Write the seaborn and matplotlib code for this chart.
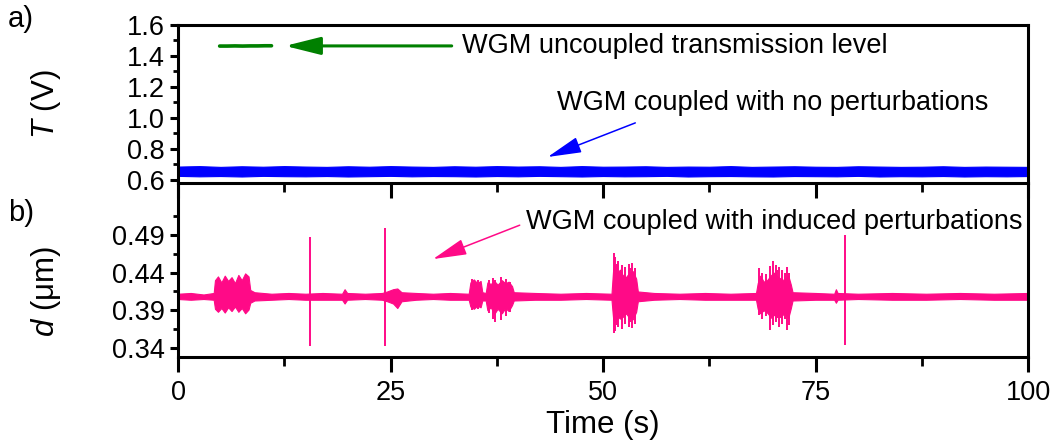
import matplotlib
matplotlib.use("Agg")
import matplotlib.pyplot as plt
import seaborn as sns
from matplotlib.ticker import FixedLocator, MultipleLocator

# --- data ---
# a) uncoupled level (short green trace)
green_t = [4.9, 5.8, 6.7, 7.6, 8.5, 9.4, 10.2, 11.0]
green_v = [1.464, 1.464, 1.465, 1.464, 1.465, 1.465, 1.466, 1.466]

# a) coupled, no perturbations: noise envelope of the blue trace
blue_t = [0.0, 2.5, 5.0, 7.5, 10.0, 12.5, 15.0, 17.5, 20.0, 22.5,
          25.0, 27.5, 30.0, 32.5, 35.0, 37.5, 40.0, 42.5, 45.0, 47.5,
          50.0, 52.5, 55.0, 57.5, 60.0, 62.5, 65.0, 67.5, 70.0, 72.5,
          75.0, 77.5, 80.0, 82.5, 85.0, 87.5, 90.0, 92.5, 95.0, 97.5, 100.0]
blue_lo = [.626, .623, .625, .622, .626, .624, .623, .625, .622, .624,
           .626, .623, .625, .624, .622, .625, .623, .626, .624, .622,
           .625, .623, .624, .626, .622, .624, .625, .623, .622, .625,
           .624, .623, .626, .622, .624, .623, .625, .622, .624, .623, .625]
blue_hi = [.686, .689, .684, .688, .685, .689, .686, .684, .688, .685,
           .689, .686, .684, .688, .685, .689, .686, .688, .684, .689,
           .685, .686, .688, .684, .686, .685, .689, .684, .686, .688,
           .685, .684, .688, .686, .684, .685, .688, .684, .686, .685, .684]

# b) coupled, induced perturbations: envelope of the dense part of the pink trace
pink_t = [0.0, 1.5, 3.0, 4.2, 4.35, 4.7, 5.1, 5.5, 5.9, 6.3, 6.7, 7.1, 7.5, 7.9, 8.3, 8.5,
          9.0, 11.0, 13.0, 15.0, 17.0, 19.3, 19.6, 19.9, 22.0, 24.0, 24.6, 25.3, 25.8, 26.3,
          28.0, 30.0, 32.0, 34.2, 34.4, 34.8, 35.2, 35.6, 35.8, 36.2, 36.4, 36.8, 37.2, 37.6,
          38.1, 38.5, 38.9, 39.3, 39.5, 42.0, 45.0, 48.0, 51.0, 51.2, 51.4, 51.7, 52.0, 52.3,
          52.7, 53.1, 53.5, 53.9, 54.1, 56.0, 59.0, 62.0, 65.0, 68.0, 68.2, 68.5, 68.9, 69.3,
          69.8, 70.1, 70.5, 70.9, 71.3, 71.8, 72.1, 72.3, 75.0, 77.2, 77.4, 77.6, 80.0, 84.0,
          88.0, 92.0, 96.0, 100.0]
pink_lo = [.405, .404, .405, .404, .392, .388, .393, .387, .394, .389, .395, .388, .393, .386, .391, .400,
           .403, .404, .405, .404, .404, .404, .399, .404, .405, .404, .402, .399, .393, .402,
           .404, .405, .404, .404, .395, .392, .396, .394, .403, .403, .390, .394, .385, .392,
           .386, .393, .389, .397, .403, .404, .404, .405, .404, .378, .374, .382, .379, .381,
           .386, .380, .378, .388, .402, .404, .405, .404, .404, .404, .392, .386, .390, .387,
           .380, .384, .382, .381, .386, .380, .393, .403, .404, .404, .400, .404, .405, .404,
           .404, .405, .404, .404]
pink_hi = [.412, .413, .411, .413, .430, .435, .427, .436, .429, .434, .426, .437, .430, .439, .435, .417,
           .414, .412, .413, .412, .413, .412, .418, .413, .412, .413, .415, .418, .419, .414,
           .413, .412, .413, .412, .427, .431, .426, .429, .414, .413, .427, .425, .429, .424,
           .430, .426, .428, .422, .414, .413, .412, .413, .412, .445, .450, .440, .444, .437,
           .434, .440, .442, .432, .415, .413, .412, .413, .412, .413, .426, .436, .428, .430,
           .437, .440, .435, .432, .430, .436, .424, .414, .413, .412, .418, .413, .412, .413,
           .412, .413, .412, .413]

# isolated sharp spikes and burst peaks in b)
spike_t = [15.5, 24.3, 78.5,
           34.6, 35.3, 36.6, 37.0, 37.3, 38.0, 38.6, 39.0,
           51.25, 51.45, 51.6, 51.8, 52.2, 52.6, 53.0, 53.2, 53.4, 53.75,
           68.4, 68.7, 69.2, 69.7, 70.0, 70.3, 70.5, 70.7, 71.1, 71.4, 71.7, 71.9]
spike_lo = [0.343, 0.343, 0.344,
            0.391, 0.392, 0.386, 0.378, 0.375, 0.377, 0.382, 0.388,
            0.360, 0.362, 0.370, 0.368, 0.365, 0.372, 0.368, 0.374, 0.366, 0.372,
            0.384, 0.378, 0.383, 0.364, 0.370, 0.374, 0.380, 0.368, 0.372, 0.378, 0.364, 0.370]
spike_hi = [0.487, 0.499, 0.490,
            0.432, 0.430, 0.430, 0.433, 0.430, 0.434, 0.432, 0.428,
            0.466, 0.461, 0.452, 0.455, 0.450, 0.447, 0.452, 0.446, 0.453, 0.446,
            0.446, 0.440, 0.438, 0.449, 0.455, 0.450, 0.444, 0.448, 0.444, 0.440, 0.447, 0.440]

x_ticks = [0, 25, 50, 75, 100]
a_ticks = [0.6, 0.8, 1.0, 1.2, 1.4, 1.6]
b_ticks = [0.34, 0.39, 0.44, 0.49]
b_minor = [0.365, 0.415, 0.465, 0.515]

GREEN = "#008000"
BLUE = "#0000ff"
PINK = "#ff0a87"
FS = 19.5
FS_LAB = 22.5

sns.set_style("ticks")
plt.rcParams["font.family"] = ["Liberation Sans", "DejaVu Sans"]
plt.rcParams["axes.linewidth"] = 2.2
plt.rcParams["mathtext.fontset"] = "custom"
plt.rcParams["mathtext.rm"] = "Liberation Sans"
plt.rcParams["mathtext.it"] = "Liberation Sans:italic"
for key in ["text.color", "axes.labelcolor", "xtick.color", "ytick.color", "axes.edgecolor"]:
    plt.rcParams[key] = "black"

fig = plt.figure(figsize=(10.54, 4.48), dpi=100)
W, H = 1054, 448
ax_b = fig.add_axes([178 / W, 1 - 357 / H, 850 / W, 174 / H])
ax_a = fig.add_axes([178 / W, 1 - 183 / H, 850 / W, 158 / H])
ax_a.set_zorder(3)
ax_a.patch.set_alpha(0)

# ---- panel a ----
ax_a.fill_between(blue_t, blue_lo, blue_hi, color=BLUE, lw=0.8, edgecolor=BLUE)
sns.lineplot(x=green_t, y=green_v, ax=ax_a, color=GREEN, lw=2.6,
             estimator=None, sort=False)

ax_a.annotate("", xy=(12.6, 1.465), xytext=(32.2, 1.465),
              arrowprops=dict(arrowstyle="-|>,head_length=1.08,head_width=0.27",
                              mutation_scale=20, color=GREEN, lw=2.2,
                              shrinkA=0, shrinkB=0))
ax_a.text(33.4, 1.465, "WGM uncoupled transmission level", fontsize=FS,
          va="center", ha="left")

ax_a.annotate("", xy=(43.5, 0.748), xytext=(53.8, 0.968),
              arrowprops=dict(arrowstyle="-|>,head_length=1.05,head_width=0.25",
                              mutation_scale=20, color=BLUE, lw=1.1,
                              shrinkA=0, shrinkB=0))
ax_a.text(44.6, 1.097, "WGM coupled with no perturbations", fontsize=FS,
          va="center", ha="left")

ax_a.set_xlim(0, 100)
ax_a.set_ylim(0.58, 1.6)
ax_a.set_yticks(a_ticks)
ax_a.set_yticklabels([f"{v:.1f}" for v in a_ticks])
ax_a.yaxis.set_minor_locator(FixedLocator([0.7, 0.9, 1.1, 1.3, 1.5]))
ax_a.set_xticks(x_ticks)
ax_a.xaxis.set_minor_locator(MultipleLocator(12.5))
ax_a.tick_params(axis="x", labelbottom=False)
ax_a.set_ylabel("$T$ (V)", fontsize=FS_LAB)
ax_a.set_xlabel("")

# ---- panel b ----
ax_b.fill_between(pink_t, pink_lo, pink_hi, color=PINK, lw=0.8, edgecolor=PINK)
ax_b.vlines(spike_t, spike_lo, spike_hi, color=PINK, lw=1.4)

ax_b.annotate("", xy=(30.0, 0.458), xytext=(40.2, 0.503),
              arrowprops=dict(arrowstyle="-|>,head_length=1.05,head_width=0.25",
                              mutation_scale=20, color=PINK, lw=1.1,
                              shrinkA=0, shrinkB=0))
ax_b.text(41.0, 0.507, "WGM coupled with induced perturbations", fontsize=FS,
          va="center", ha="left")

ax_b.set_xlim(0, 100)
ax_b.set_ylim(0.328, 0.559)
ax_b.set_yticks(b_ticks)
ax_b.set_yticklabels([f"{v:.2f}" for v in b_ticks])
ax_b.yaxis.set_minor_locator(FixedLocator(b_minor))
ax_b.set_xticks(x_ticks)
ax_b.set_xticklabels([str(v) for v in x_ticks])
ax_b.xaxis.set_minor_locator(MultipleLocator(12.5))
ax_b.spines["top"].set_visible(False)
ax_b.set_xlabel("Time (s)", fontsize=FS_LAB, labelpad=3)
ax_b.set_ylabel("$d$ (\u03bcm)", fontsize=FS_LAB)

for ax in (ax_a, ax_b):
    for s in ax.spines.values():
        s.set_linewidth(2.2)
        s.set_color("black")
    ax.tick_params(axis="y", which="major", direction="out", length=5.8, width=2.2,
                   labelsize=FS, pad=4)
    ax.tick_params(axis="y", which="minor", direction="out", length=3.6, width=2.0)
    ax.tick_params(axis="x", which="major", direction="out", length=10.5, width=2.2,
                   labelsize=FS, pad=6)
    ax.tick_params(axis="x", which="minor", direction="out", length=6.5, width=2.0)

ax_a.yaxis.set_label_coords(-0.135, 0.5)
ax_b.yaxis.set_label_coords(-0.135, 0.379)

fig.text(8 / W, 1 - 19 / H, "a)", fontsize=21, va="center", ha="left")
fig.text(8 / W, 1 - 213 / H, "b)", fontsize=21, va="center", ha="left")

fig.savefig("out.png", dpi=100)
